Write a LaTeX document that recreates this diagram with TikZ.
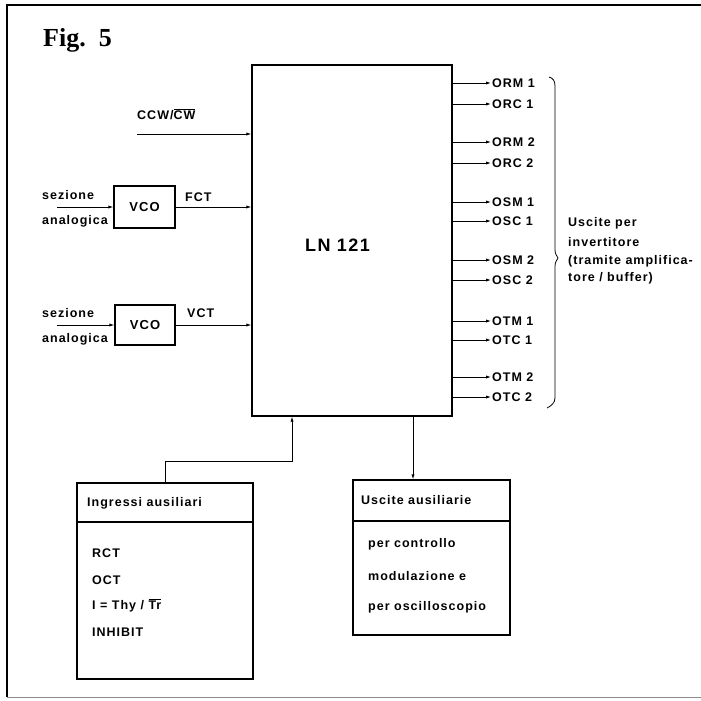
\documentclass[tikz,border=0pt]{standalone}
\usepackage{fontspec}
\newfontfamily\labf{Liberation Sans}[LetterSpace=8]
\newfontfamily\figf{Liberation Serif}
\usetikzlibrary{arrows.meta,calc}
\tikzset{
  lbl/.style={font=\labf\bfseries\fontsize{12.5}{15}\selectfont, inner sep=0pt, anchor=base west},
  blk/.style={draw, line width=1.3pt, inner sep=0pt},
  con/.style={line width=0.8pt},
  arr/.style={con, -{Latex[length=5pt,width=3.2pt]}},
}
\begin{document}
\begin{tikzpicture}[x=1pt,y=-1pt]
\useasboundingbox (0,0) rectangle (701,701);
% frame
\draw[line width=1.6pt] (701,5) -- (7,5) -- (7,697);
\draw[line width=0.8pt, black!45] (7,697) -- (701,697);
\node[font=\figf\bfseries\fontsize{26}{28}\selectfont, anchor=base west, inner sep=0pt] (fig) at (43,47) {Fig.~~5};
% main chip
\node[blk, minimum width=200pt, minimum height=351pt] (ln) at (352,240.5) {};
\node[font=\labf\bfseries\fontsize{18}{20}\selectfont, inner sep=0pt] (lnt) at (337.5,245) {LN 121};
% CCW input
\node[lbl] (ccw) at (137,119.5) {CCW/$\overline{\hbox{CW}}$};
\coordinate (cin) at (137,134);
\draw[arr] (cin) -- (cin -| ln.west);
% VCO 1
\node[blk, minimum width=61pt, minimum height=42pt, font=\labf\bfseries\fontsize{13}{15}\selectfont] (vco1) at (144.5,207) {VCO};
\node[lbl] (sez1) at (42,199.5) {sezione};
\node[lbl] (ana1) at (42,224.5) {analogica};
\coordinate (in1) at (57,207);
\draw[arr] (in1) -- (vco1.west);
\draw[arr] (vco1.east) -- (vco1.east -| ln.west);
\node[lbl] (fct) at (185,201.5) {FCT};
% VCO 2
\node[blk, minimum width=60pt, minimum height=40pt, font=\labf\bfseries\fontsize{13}{15}\selectfont] (vco2) at (145,325) {VCO};
\node[lbl] (sez2) at (42,317.5) {sezione};
\node[lbl] (ana2) at (42,342.5) {analogica};
\coordinate (in2) at (57,325);
\draw[arr] (in2) -- (vco2.west);
\draw[arr] (vco2.east) -- (vco2.east -| ln.west);
\node[lbl] (vct) at (187,317.5) {VCT};
% outputs
\foreach \y/\t [count=\i] in {83/ORM 1,104/ORC 1,142/ORM 2,163/ORC 2,202/OSM 1,221/OSC 1,260/OSM 2,280/OSC 2,321/OTM 1,340/OTC 1,377/OTM 2,397/OTC 2}{
  \node[lbl] (o\i) at (492,\y+4.5) {\t};
  \coordinate (oe\i) at (491,\y);
  \draw[arr] (ln.east |- oe\i) -- (oe\i);
}
% brace
\draw[con] (549,77) .. controls (553,78) and (555,81) .. (555,86) -- (555,250)
  .. controls (555,254) and (557,256) .. (558,258)
  .. controls (557,260) and (555,262) .. (555,266) -- (555,398)
  .. controls (555,403) and (551,406) .. (547,408);
\node[lbl] (b1) at (568,226.5) {Uscite per};
\node[lbl] (b2) at (568,246.5) {invertitore};
\node[lbl] (b3) at (568,264.5) {(tramite amplifica-};
\node[lbl] (b4) at (568,281.5) {tore / buffer)};
% Ingressi ausiliari
\node[blk, minimum width=176pt, minimum height=39pt] (ingh) at (165,502.5) {};
\node[blk, minimum width=176pt, minimum height=157pt] (ingb) at (165,600.5) {};
\node[lbl] (ingt) at (87,506.5) {Ingressi ausiliari};
\node[lbl] (i1) at (92,557.5) {RCT};
\node[lbl] (i2) at (92,584.5) {OCT};
\node[lbl] (i3) at (92,609.5) {I = Thy / $\overline{\hbox{Tr}}$};
\node[lbl] (i4) at (92,636.5) {INHIBIT};
\coordinate (k2) at (292,461);
\draw[arr] (ingh.north) |- (k2) -- (k2 |- ln.south);
% Uscite ausiliarie
\node[blk, minimum width=157pt, minimum height=41pt] (usah) at (431.5,500.5) {};
\node[blk, minimum width=157pt, minimum height=114pt] (usab) at (431.5,578) {};
\node[lbl] (ust) at (361,504.5) {Uscite ausiliarie};
\node[lbl] (u1) at (368,547.5) {per controllo};
\node[lbl] (u2) at (368,580.5) {modulazione e};
\node[lbl] (u3) at (368,610.5) {per oscilloscopio};
\coordinate (k3) at (413,440);
\draw[arr] (k3 |- ln.south) -- (k3 |- usah.north);
\end{tikzpicture}
\end{document}
